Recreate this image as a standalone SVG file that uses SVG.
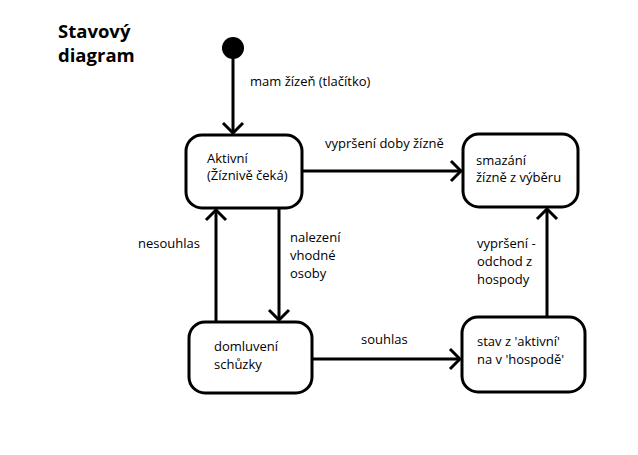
<svg xmlns="http://www.w3.org/2000/svg" width="638" height="455" viewBox="0 0 638 455">
<defs>
<marker id="arr" viewBox="-12 -12 14 24" markerWidth="14" markerHeight="24" refX="0" refY="0" orient="auto" markerUnits="userSpaceOnUse">
<path d="M-10,-10 L0,0 L-10,10" fill="none" stroke="#000" stroke-width="3"/>
</marker>
</defs>
<style>
.box{fill:#fff;stroke:#000;stroke-width:3}
.t{font-family:"Open Sans","Liberation Sans",sans-serif;font-size:13px;fill:#000}
.title{font-family:"Open Sans","Liberation Sans",sans-serif;font-size:18.5px;font-weight:bold;fill:#000}
.c{fill:none;stroke:#000;stroke-width:3}
</style>
<rect width="638" height="455" fill="#fff"/>
<g id="title">
<text class="title" x="58" y="38">Stavový</text>
<text class="title" x="58" y="62">diagram</text>
</g>
<g id="connectors">
<path class="c" d="M233,48 L233,133" marker-end="url(#arr)"/>
<path class="c" d="M302,171 L461,171" marker-end="url(#arr)"/>
<path class="c" d="M279,208 L279,320" marker-end="url(#arr)"/>
<path class="c" d="M216,322 L216,210" marker-end="url(#arr)"/>
<path class="c" d="M312,359 L460,359" marker-end="url(#arr)"/>
<path class="c" d="M547,317 L547,209" marker-end="url(#arr)"/>
<text class="t" x="250" y="86">mam žízeň (tlačítko)</text>
<text class="t" x="325" y="148">vypršení doby žízně</text>
<text class="t" x="138" y="248">nesouhlas</text>
<text class="t" x="290" y="242">nalezení</text>
<text class="t" x="290" y="260">vhodné</text>
<text class="t" x="290" y="278">osoby</text>
<text class="t" x="361" y="344">souhlas</text>
<text class="t" x="477" y="248">vypršení -</text>
<text class="t" x="477" y="266">odchod z</text>
<text class="t" x="477" y="284">hospody</text>
</g>
<g id="start">
<circle cx="233" cy="48" r="11" fill="#000"/>
</g>
<g id="aktivni">
<rect class="box" x="186" y="135" width="116" height="73" rx="16"/>
<text class="t" x="207" y="163">Aktivní</text>
<text class="t" x="207" y="180">(Žíznivě čeká)</text>
</g>
<g id="smazani">
<rect class="box" x="463" y="134" width="115" height="73" rx="16"/>
<text class="t" x="476" y="165">smazání</text>
<text class="t" x="476" y="182">žízně z výběru</text>
</g>
<g id="domluveni">
<rect class="box" x="189" y="322" width="123" height="71" rx="16"/>
<text class="t" x="214" y="351">domluvení</text>
<text class="t" x="214" y="369">schůzky</text>
</g>
<g id="stav">
<rect class="box" x="462" y="317" width="123" height="75" rx="16"/>
<text class="t" x="477" y="346">stav z 'aktivní'</text>
<text class="t" x="477" y="364">na v 'hospodě'</text>
</g>
</svg>
